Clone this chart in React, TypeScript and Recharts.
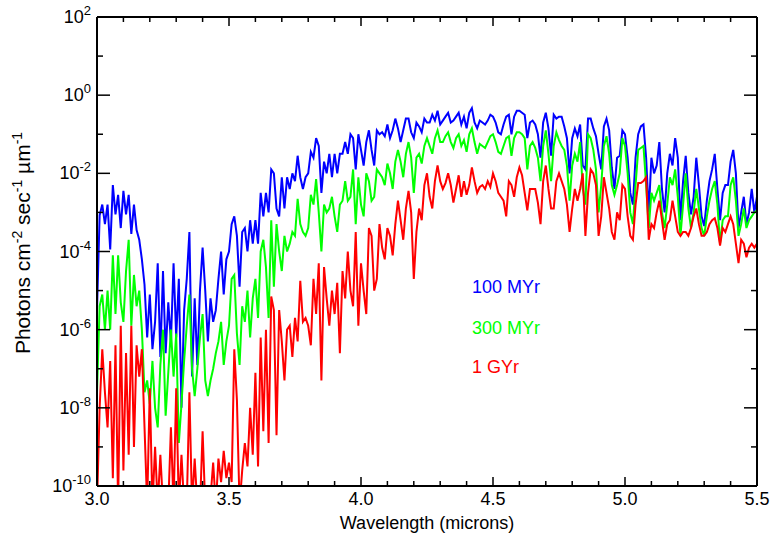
import React from "react";
import { LineChart, Line, XAxis, YAxis } from "recharts";

// Wavelength grid (microns)
const wavelength = [
  3.00, 3.01, 3.02, 3.03, 3.04, 3.05, 3.06, 3.07, 3.08, 3.09,
  3.10, 3.11, 3.12, 3.13, 3.14, 3.15, 3.16, 3.17, 3.18, 3.19,
  3.20, 3.21, 3.22, 3.23, 3.24, 3.25, 3.26, 3.27, 3.28, 3.29,
  3.30, 3.31, 3.32, 3.33, 3.34, 3.35, 3.36, 3.37, 3.38, 3.39,
  3.40, 3.41, 3.42, 3.43, 3.44, 3.45, 3.46, 3.47, 3.48, 3.49,
  3.50, 3.51, 3.52, 3.53, 3.54, 3.55, 3.56, 3.57, 3.58, 3.59,
  3.60, 3.61, 3.62, 3.63, 3.64, 3.65, 3.66, 3.67, 3.68, 3.69,
  3.70, 3.71, 3.72, 3.73, 3.74, 3.75, 3.76, 3.77, 3.78, 3.79,
  3.80, 3.81, 3.82, 3.83, 3.84, 3.85, 3.86, 3.87, 3.88, 3.89,
  3.90, 3.91, 3.92, 3.93, 3.94, 3.95, 3.96, 3.97, 3.98, 3.99,
  4.00, 4.01, 4.02, 4.03, 4.04, 4.05, 4.06, 4.07, 4.08, 4.09,
  4.10, 4.11, 4.12, 4.13, 4.14, 4.15, 4.16, 4.17, 4.18, 4.19,
  4.20, 4.21, 4.22, 4.23, 4.24, 4.25, 4.26, 4.27, 4.28, 4.29,
  4.30, 4.31, 4.32, 4.33, 4.34, 4.35, 4.36, 4.37, 4.38, 4.39,
  4.40, 4.41, 4.42, 4.43, 4.44, 4.45, 4.46, 4.47, 4.48, 4.49,
  4.50, 4.51, 4.52, 4.53, 4.54, 4.55, 4.56, 4.57, 4.58, 4.59,
  4.60, 4.61, 4.62, 4.63, 4.64, 4.65, 4.66, 4.67, 4.68, 4.69,
  4.70, 4.71, 4.72, 4.73, 4.74, 4.75, 4.76, 4.77, 4.78, 4.79,
  4.80, 4.81, 4.82, 4.83, 4.84, 4.85, 4.86, 4.87, 4.88, 4.89,
  4.90, 4.91, 4.92, 4.93, 4.94, 4.95, 4.96, 4.97, 4.98, 4.99,
  5.00, 5.01, 5.02, 5.03, 5.04, 5.05, 5.06, 5.07, 5.08, 5.09,
  5.10, 5.11, 5.12, 5.13, 5.14, 5.15, 5.16, 5.17, 5.18, 5.19,
  5.20, 5.21, 5.22, 5.23, 5.24, 5.25, 5.26, 5.27, 5.28, 5.29,
  5.30, 5.31, 5.32, 5.33, 5.34, 5.35, 5.36, 5.37, 5.38, 5.39,
  5.40, 5.41, 5.42, 5.43, 5.44, 5.45, 5.46, 5.47, 5.48, 5.49,
  5.50,
];

// log10(photons cm^-2 s^-1 um^-1), 100 MYr
const flux100Myr = [
  -5.5, -3.07, -2.8, -3.3, -2.8, -3.95, -2.3, -3.05, -2.55, -3.4,
  -2.45, -3.05, -2.55, -3.55, -2.8, -3.45, -3.7, -4.2, -4.85, -6.2,
  -5.1, -6.5, -5.8, -4.3, -6.7, -4.5, -6.6, -5.3, -6.3, -4.3,
  -6.2, -4.7, -8.0, -5.5, -4.7, -3.5, -7.2, -5.2, -6.9, -5.0,
  -3.9, -5.0, -6.3, -5.2, -5.8, -5.5, -4.7, -4.0, -5.1, -4.2,
  -4.0, -3.3, -3.1, -3.6, -4.9, -3.5, -3.4, -4.0, -3.2, -3.8,
  -3.2, -3.8, -2.5, -3.1, -2.5, -3.0, -1.9, -2.0, -2.9, -3.1,
  -2.1, -2.9, -2.1, -2.4, -2.0, -2.2, -1.55, -2.1, -2.4, -2.1,
  -2.0, -1.45, -1.6, -1.1, -1.3, -2.5, -1.7, -2.0, -1.5, -2.1,
  -1.5, -2.0, -1.5, -1.5, -1.2, -1.5, -1.0, -1.1, -1.9, -1.0,
  -1.4, -1.8, -1.2, -0.9, -1.4, -1.8, -0.9, -1.0, -0.95, -1.05,
  -0.75, -1.1, -0.9, -0.6, -0.85, -1.2, -0.9, -0.6, -0.6, -0.95,
  -1.1, -0.7, -0.8, -0.95, -0.6, -0.7, -0.7, -0.5, -0.65, -0.4,
  -0.75, -0.65, -0.55, -0.45, -0.7, -0.65, -0.55, -0.45, -0.75, -0.55,
  -0.85, -0.45, -0.33, -0.7, -0.85, -0.65, -0.7, -0.75, -0.65, -0.5,
  -0.55, -0.7, -0.95, -1.0, -0.75, -0.55, -0.5, -1.0, -0.55, -0.4,
  -0.4, -0.45, -0.5, -1.1, -0.7, -0.65, -0.75, -1.0, -1.6, -0.7,
  -0.45, -0.85, -1.55, -0.5, -0.6, -0.55, -0.55, -0.8, -1.1, -2.0,
  -1.1, -0.85, -1.05, -0.75, -1.8, -1.9, -0.6, -0.6, -0.85, -1.05,
  -1.5, -1.9, -0.8, -0.6, -0.9, -1.85, -2.4, -1.6, -1.55, -0.9,
  -1.0, -1.6, -2.5, -2.8, -1.6, -1.0, -0.8, -0.75, -1.6, -3.0,
  -1.6, -2.0, -1.8, -1.2, -2.4, -3.0, -2.0, -1.5, -1.8, -1.1,
  -1.6, -3.2, -2.2, -1.55, -2.5, -3.05, -2.6, -1.6, -2.3, -3.1,
  -3.35, -2.7, -2.2, -1.9, -1.5, -2.4, -3.2, -2.5, -2.3, -2.3,
  -1.7, -1.4, -2.0, -3.4, -3.0, -2.6, -3.3, -3.0, -2.4, -3.0,
  -2.6,
];

// 300 MYr
const flux300Myr = [
  -7.6, -5.4, -5.1, -6.0, -5.0, -6.0, -4.1, -5.6, -4.1, -5.3,
  -5.8, -4.5, -3.7, -5.9, -4.6, -5.4, -5.0, -6.0, -7.6, -7.3,
  -7.9, -6.8, -8.0, -8.5, -6.9, -6.0, -8.2, -7.1, -6.0, -7.2,
  -6.1, -8.9, -7.9, -6.8, -5.9, -5.1, -7.0, -7.7, -7.0, -6.2,
  -5.6, -7.3, -7.7, -7.3, -7.0, -6.6, -6.3, -5.8, -6.9, -6.3,
  -5.9, -4.7, -4.6, -6.1, -6.9, -5.4, -5.8, -5.0, -6.2, -5.2,
  -4.7, -5.7, -4.0, -3.7, -4.4, -5.7, -3.2, -4.9, -3.3, -4.0,
  -4.5, -3.6, -4.0, -3.8, -3.5, -3.6, -2.65, -3.3, -3.5, -3.6,
  -3.4, -2.55, -2.8, -2.15, -3.0, -4.0, -2.8, -3.0, -2.9, -2.6,
  -3.1, -3.5, -2.8, -2.7, -2.2, -2.7, -2.6, -1.9, -3.3, -2.1,
  -2.8, -3.1, -2.0, -2.2, -2.7, -2.6, -1.9, -2.0, -2.1, -2.3,
  -1.75, -2.0, -2.4, -1.7, -1.4, -1.7, -2.1, -1.5, -1.2, -1.6,
  -2.5, -1.6, -1.5, -1.75, -1.3, -1.1, -1.3, -1.5, -1.1, -0.9,
  -1.2, -1.2, -1.05, -0.95, -1.2, -1.35, -1.1, -1.0, -1.3, -1.15,
  -1.45, -1.0, -0.85, -1.2, -1.5, -1.25, -1.3, -1.35, -1.2, -1.05,
  -1.0, -1.2, -1.45, -1.5, -1.3, -1.1, -1.05, -1.55, -1.1, -0.95,
  -0.95, -1.0, -1.1, -1.9, -1.3, -1.2, -1.35, -1.6, -2.2, -1.3,
  -0.9, -1.5, -2.2, -1.3, -0.95, -1.15, -1.3, -1.4, -1.8, -2.7,
  -1.8, -1.5, -1.7, -1.2, -2.4, -2.8, -1.0, -1.1, -1.4, -1.9,
  -3.0, -2.3, -1.3, -1.05, -1.5, -2.3, -2.55, -2.3, -2.0, -1.1,
  -1.3, -2.0, -3.0, -3.3, -2.3, -1.4, -1.35, -1.3, -2.3, -3.4,
  -2.5, -2.7, -2.5, -2.3, -3.0, -3.4, -2.8, -2.1, -2.3, -1.9,
  -2.6, -3.6, -2.8, -2.0, -2.9, -3.4, -3.0, -2.4, -2.9, -3.4,
  -3.6, -3.1, -2.7, -2.4, -2.2, -2.8, -3.8, -3.2, -3.1, -3.1,
  -2.3, -2.1, -2.7, -3.6, -3.3, -2.9, -3.4, -3.2, -3.1, -3.0,
  -2.95,
];

// 1 GYr
const flux1Gyr = [
  -10.5, -8.0, -6.5, -7.6, -8.5, -6.8, -9.8, -6.4, -10.5, -5.9,
  -9.6, -6.6, -9.2, -5.9, -9.0, -6.4, -7.2, -6.5, -8.5, -10.5,
  -7.5, -10.5, -9.0, -10.5, -9.2, -10.5, -10.8, -10.5, -8.5, -10.5,
  -7.5, -10.5, -9.2, -10.5, -10.5, -7.6, -10.5, -9.3, -10.5, -10.6,
  -8.6, -10.5, -10.5, -10.3, -9.4, -10.5, -9.3, -9.9, -9.1, -9.8,
  -9.4, -9.9, -6.5, -7.8, -10.5, -9.6, -8.9, -9.5, -8.0, -9.2,
  -7.1, -9.5, -6.2, -8.6, -6.0, -8.9, -5.15, -5.5, -8.7, -5.5,
  -6.3, -7.3, -6.0, -5.9, -6.7, -5.7, -6.3, -4.75, -5.8, -5.7,
  -5.9, -6.4, -4.7, -5.6, -4.3, -7.3, -4.4, -5.2, -5.9, -5.0,
  -5.6, -4.8, -6.6, -4.5, -5.2, -4.0, -5.0, -5.4, -3.5, -5.9,
  -4.3, -5.0, -5.6, -3.4, -3.6, -5.0, -4.7, -3.3, -3.9, -4.2,
  -3.4, -3.6, -4.1, -3.3, -2.7, -3.2, -3.7, -2.9, -2.45, -3.0,
  -4.7, -3.5, -2.9, -3.2, -2.3, -2.0, -2.6, -2.9, -2.2, -1.8,
  -2.2, -2.4, -2.25, -2.0, -2.3, -2.75, -2.4, -2.05, -2.6, -2.2,
  -2.55, -2.3, -1.85, -2.2, -2.5, -2.35, -2.3, -2.4, -2.2, -2.35,
  -2.0, -2.2, -2.5, -2.6, -2.7, -3.1, -2.2, -2.3, -2.6, -2.1,
  -1.85, -2.05, -2.5, -2.95, -2.4, -2.4, -2.4, -2.75, -3.3, -2.2,
  -1.8, -2.4, -2.9, -2.9, -2.2, -2.0, -2.2, -2.4, -2.8, -3.5,
  -2.9, -2.4, -2.7, -2.4, -2.0, -3.6, -2.5, -1.9, -2.0, -2.3,
  -3.6, -3.1, -2.1, -2.5, -2.9, -3.5, -3.7, -3.0, -3.2, -2.3,
  -2.4, -3.1, -3.6, -3.7, -2.8, -2.25, -2.25, -2.2, -2.1, -3.7,
  -3.3, -3.4, -3.0, -2.7, -3.2, -3.7, -3.3, -3.2, -2.7, -3.1,
  -3.5, -3.6, -3.5, -3.5, -3.6, -3.4, -3.1, -2.9, -3.3, -3.6,
  -3.6, -3.5, -3.3, -3.2, -3.15, -3.4, -3.85, -3.4, -3.5, -3.3,
  -3.1, -3.3, -3.8, -4.3, -3.7, -3.8, -4.15, -3.9, -3.8, -3.9,
  -3.8,
];

const xTicks = [
  3.0, 3.1, 3.2, 3.3, 3.4, 3.5, 3.6, 3.7, 3.8, 3.9,
  4.0, 4.1, 4.2, 4.3, 4.4, 4.5, 4.6, 4.7, 4.8, 4.9,
  5.0, 5.1, 5.2, 5.3, 5.4, 5.5,
];
const xMajorLabels = ["3.0", "3.5", "4.0", "4.5", "5.0", "5.5"];
const yTicks = [-10, -9, -8, -7, -6, -5, -4, -3, -2, -1, 0, 1, 2];

const seriesNames = ["100 MYr", "300 MYr", "1 GYr"];
const seriesColors = ["#0000ff", "#00ff00", "#ff0000"];

const data = wavelength.map((w, i) => ({
  w,
  b: flux100Myr[i],
  g: flux300Myr[i],
  r: flux1Gyr[i],
}));

const FONT = "'Liberation Sans', Arial, Helvetica, sans-serif";

const isMajorX = (v: number) => Math.abs(v * 2 - Math.round(v * 2)) < 1e-6;
const isMajorY = (v: number) => Math.abs(v) % 2 === 0;

const BottomTick = (props: any) => {
  const { x, y, payload } = props;
  const v = payload.value as number;
  const major = isMajorX(v);
  const label = xMajorLabels.find((s) => Math.abs(parseFloat(s) - v) < 1e-6);
  return (
    <g>
      <line x1={x} y1={y} x2={x} y2={y - (major ? 9 : 5)} stroke="#000" strokeWidth={1.5} />
      {major && label ? (
        <text x={x} y={y + 19} textAnchor="middle" fontSize={18} fontFamily={FONT} fill="#000">
          {label}
        </text>
      ) : null}
    </g>
  );
};

const TopTick = (props: any) => {
  const { x, y, payload } = props;
  const major = isMajorX(payload.value);
  return <line x1={x} y1={y} x2={x} y2={y + (major ? 9 : 5)} stroke="#000" strokeWidth={1.5} />;
};

const LeftTick = (props: any) => {
  const { x, y, payload } = props;
  const v = payload.value as number;
  const major = isMajorY(v);
  return (
    <g>
      <line x1={x} y1={y} x2={x + (major ? 13 : 6)} y2={y} stroke="#000" strokeWidth={1.5} />
      {major ? (
        <text x={x - 6} y={y + 6} textAnchor="end" fontSize={18} fontFamily={FONT} fill="#000">
          10
          <tspan dy={-8} fontSize={13}>
            {String(v)}
          </tspan>
        </text>
      ) : null}
    </g>
  );
};

const RightTick = (props: any) => {
  const { x, y, payload } = props;
  const major = isMajorY(payload.value);
  return <line x1={x} y1={y} x2={x - (major ? 13 : 6)} y2={y} stroke="#000" strokeWidth={1.5} />;
};

export default function App() {
  return (
    <div style={{ position: "absolute", left: 0, top: 0, width: 770, height: 535, background: "#fff" }}>
      <svg
        width={770}
        height={535}
        style={{ position: "absolute", left: 0, top: 0, pointerEvents: "none" }}
        fontFamily={FONT}
      >
        <text x={427} y={529} textAnchor="middle" fontSize={18} fill="#000">
          Wavelength (microns)
        </text>
        <text transform="translate(30,243) rotate(-90)" textAnchor="middle" fontSize={21} fill="#000">
          Photons cm
          <tspan dy={-8} fontSize={14}>-2</tspan>
          <tspan dy={8}> sec</tspan>
          <tspan dy={-8} fontSize={14}>-1</tspan>
          <tspan dy={8}> µm</tspan>
          <tspan dy={-8} fontSize={14}>-1</tspan>
        </text>
        <text x={472} y={293} fontSize={18} fill={seriesColors[0]}>{seriesNames[0]}</text>
        <text x={472} y={334} fontSize={18} fill={seriesColors[1]}>{seriesNames[1]}</text>
        <text x={472} y={373} fontSize={18} fill={seriesColors[2]}>{seriesNames[2]}</text>
      </svg>
      <div style={{ position: "absolute", left: 0, top: 0 }}>
        <LineChart width={770} height={535} data={data} margin={{ top: 16, right: 12, bottom: 0, left: 0 }}>
          <XAxis
            dataKey="w"
            type="number"
            domain={[3, 5.5]}
            ticks={xTicks}
            interval={0}
            allowDataOverflow
            height={49}
            tickSize={0}
            tickMargin={0}
            tickLine={false}
            axisLine={{ stroke: "#000", strokeWidth: 2 }}
            tick={<BottomTick />}
          />
          <XAxis
            xAxisId="top"
            orientation="top"
            dataKey="w"
            type="number"
            domain={[3, 5.5]}
            ticks={xTicks}
            interval={0}
            allowDataOverflow
            height={1}
            tickSize={0}
            tickMargin={0}
            tickLine={false}
            axisLine={{ stroke: "#000", strokeWidth: 2 }}
            tick={<TopTick />}
          />
          <YAxis
            type="number"
            domain={[-10, 2]}
            ticks={yTicks}
            interval={0}
            allowDataOverflow
            width={97}
            tickSize={0}
            tickMargin={0}
            tickLine={false}
            axisLine={{ stroke: "#000", strokeWidth: 2 }}
            tick={<LeftTick />}
          />
          <YAxis
            yAxisId="right"
            orientation="right"
            type="number"
            domain={[-10, 2]}
            ticks={yTicks}
            interval={0}
            allowDataOverflow
            width={1}
            tickSize={0}
            tickMargin={0}
            tickLine={false}
            axisLine={{ stroke: "#000", strokeWidth: 2 }}
            tick={<RightTick />}
          />
          <Line dataKey="b" type="linear" stroke={seriesColors[0]} strokeWidth={2} dot={false} isAnimationActive={false} />
          <Line dataKey="g" type="linear" stroke={seriesColors[1]} strokeWidth={2} dot={false} isAnimationActive={false} />
          <Line dataKey="r" type="linear" stroke={seriesColors[2]} strokeWidth={2} dot={false} isAnimationActive={false} />
        </LineChart>
      </div>
    </div>
  );
}
